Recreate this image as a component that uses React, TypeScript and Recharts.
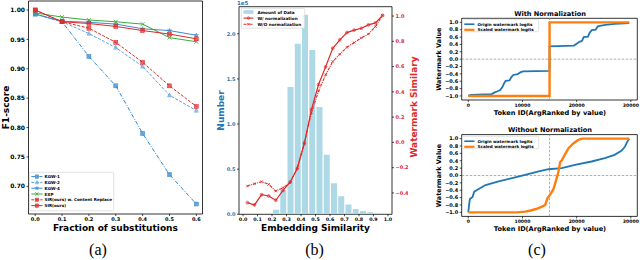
import React from 'react';
import {
  LineChart,
  Line,
  ComposedChart,
  Bar,
  XAxis,
  YAxis,
  ReferenceArea,
  ReferenceLine,
  Legend,
} from 'recharts';

const FONT = '"DejaVu Sans", Verdana, sans-serif';
const SERIF = '"Liberation Serif", "Times New Roman", serif';

// ---------------- (a) F1 vs fraction of substitutions ----------------
const fractions = [0, 0.1, 0.2, 0.3, 0.4, 0.5, 0.6];
const kgw1 = [0.993, 0.98, 0.921, 0.871, 0.79, 0.72, 0.67];
const kgw2 = [0.993, 0.98, 0.96, 0.936, 0.904, 0.855, 0.829];
const kgw4 = [0.993, 0.981, 0.979, 0.976, 0.968, 0.965, 0.957];
const expScores = [0.995, 0.988, 0.983, 0.98, 0.976, 0.953, 0.946];
const sirReplace = [1.0, 0.98, 0.969, 0.945, 0.911, 0.871, 0.836];
const sirOurs = [1.0, 0.98, 0.977, 0.972, 0.965, 0.959, 0.951];
const fractionTicks = [0, 0.1, 0.2, 0.3, 0.4, 0.5, 0.6];
const f1Ticks = [0.7, 0.75, 0.8, 0.85, 0.9, 0.95, 1.0];
const namesA = ['KGW-1', 'KGW-2', 'KGW-4', 'EXP', 'SIR(ours) w. Content Replace', 'SIR(ours)'];

// ---------------- (b) embedding similarity ----------------
const binCenters = [0.225, 0.275, 0.325, 0.375, 0.425, 0.475, 0.525, 0.575, 0.625, 0.675, 0.725, 0.775, 0.825, 0.875, 0.925, 0.975];
const binCounts = [0.05, 0.27, 1.41, 1.89, 2.21, 1.82, 1.19, 0.66, 0.345, 0.2, 0.108, 0.06, 0.037, 0.022, 0.008, 0.003]; // x 1e5
const simPoints = [0.03, 0.079, 0.128, 0.177, 0.226, 0.276, 0.325, 0.374, 0.423, 0.472, 0.521, 0.57, 0.619, 0.668, 0.717, 0.767, 0.816, 0.865, 0.914, 0.963];
const withNorm = [-0.477, -0.495, -0.414, -0.424, -0.458, -0.38, -0.313, -0.208, -0.01, 0.26, 0.458, 0.598, 0.745, 0.812, 0.869, 0.889, 0.903, 0.93, 0.946, 1.006];
const withoutNorm = [-0.345, -0.327, -0.311, -0.332, -0.385, -0.358, -0.32, -0.2, 0.0, 0.235, 0.406, 0.535, 0.64, 0.698, 0.753, 0.79, 0.827, 0.857, 0.917, 1.006];
const simTicks = [0, 0.1, 0.2, 0.3, 0.4, 0.5, 0.6, 0.7, 0.8, 0.9, 1.0];
const countTicks = [0, 0.5, 1.0, 1.5, 2.0];
const simScoreTicks = [-0.4, -0.2, 0, 0.2, 0.4, 0.6, 0.8, 1.0];
const namesB = ['Amount of Data', 'W/ normalization', 'W/O normalization'];

// ---------------- (c) watermark logits ----------------
const topOriginX = [0, 400, 4300, 4800, 5300, 5900, 6300, 6600, 6900, 7600, 8000, 8300, 9100, 9600, 10100, 15000, 15000, 19500, 20000, 20500, 21000, 21300, 22100, 22400, 22800, 23500, 23900, 24500, 25300, 27000, 29700];
const topOriginY = [-1.0, -0.97, -0.95, -0.91, -0.88, -0.84, -0.76, -0.66, -0.59, -0.58, -0.48, -0.43, -0.41, -0.36, -0.33, -0.32, 0.35, 0.37, 0.42, 0.47, 0.5, 0.6, 0.61, 0.72, 0.79, 0.8, 0.89, 0.91, 0.93, 0.96, 0.98];
const topScaledX = [0, 15000, 15000, 29700];
const topScaledY = [-1.0, -1.0, 1.0, 1.0];
const botOriginX = [0, 150, 300, 800, 1100, 2000, 3200, 5600, 8100, 10500, 13000, 14800, 17250, 19700, 22750, 25200, 27000, 28250, 28900, 29350, 29700];
const botOriginY = [-1.0, -0.8, -0.64, -0.58, -0.44, -0.36, -0.26, -0.16, -0.07, 0.02, 0.11, 0.17, 0.2, 0.29, 0.38, 0.47, 0.56, 0.67, 0.78, 0.92, 1.0];
const botScaledX = [0, 9000, 10500, 11500, 12500, 13500, 14200, 14600, 15100, 15700, 16150, 16650, 16950, 17300, 17800, 18500, 19400, 20300, 21000, 29700];
const botScaledY = [-1.0, -1.0, -0.98, -0.95, -0.91, -0.85, -0.8, -0.62, -0.52, -0.38, -0.16, 0.11, 0.36, 0.42, 0.56, 0.74, 0.87, 0.97, 1.0, 1.0];
const tokenTicks = [0, 10000, 20000, 30000];
const wmTicks = [-1.0, -0.8, -0.6, -0.4, -0.2, 0, 0.2, 0.4, 0.6, 0.8, 1.0];
const namesC = ['Origin watermark logits', 'Scaled watermark logits'];

// ---------------- tables built from the arrays ----------------
const aData = fractions.map((f, i) => ({
  f,
  kgw1: kgw1[i],
  kgw2: kgw2[i],
  kgw4: kgw4[i],
  exp: expScores[i],
  sirReplace: sirReplace[i],
  sir: sirOurs[i],
}));
const barData = binCenters.map((x, i) => ({ x, count: binCounts[i] }));
const simLineData = simPoints.map((x, i) => ({ x, withNorm: withNorm[i], withoutNorm: withoutNorm[i] }));
const zip = (xs: number[], ys: number[]) => xs.map((x, i) => ({ x, y: ys[i] }));
const topOrigin = zip(topOriginX, topOriginY);
const topScaled = zip(topScaledX, topScaledY);
const botOrigin = zip(botOriginX, botOriginY);
const botScaled = zip(botScaledX, botScaledY);

// ---------------- styles ----------------
const BLUE_A = '#3a8bd0';
const RED = '#e02828';
const GREEN = '#3cab3c';
const BAR_BLUE = '#add8e6';
const AX_BLUE = '#1f77b4';
const C_BLUE = '#1f77b4';
const C_ORANGE = '#ff7f0e';

const aStyles = [
  { key: 'kgw1', color: '#2f86cc', dash: '4 1.5 1 1.5', marker: 'square' },
  { key: 'kgw2', color: '#5aa2df', dash: '3 1.5', marker: 'triangle' },
  { key: 'kgw4', color: BLUE_A, dash: undefined, marker: 'star' },
  { key: 'exp', color: GREEN, dash: undefined, marker: 'x' },
  { key: 'sirReplace', color: RED, dash: '3 1.5', marker: 'square' },
  { key: 'sir', color: RED, dash: undefined, marker: 'square' },
];

const fmtMinus = (d: number) => (v: number) => (v < 0 ? '\u2212' : '') + Math.abs(v).toFixed(d);

function MarkerShape({ shape, cx, cy, size, color }: { shape: string; cx: number; cy: number; size: number; color: string }) {
  const s = size / 2;
  if (shape === 'square')
    return <rect x={cx - s} y={cy - s} width={size} height={size} fill={color} fillOpacity={0.7} stroke={color} strokeWidth={0.5} />;
  if (shape === 'triangle')
    return (
      <path
        d={`M${cx},${cy - s * 1.15}L${cx + s},${cy + s * 0.85}L${cx - s},${cy + s * 0.85}Z`}
        fill={color}
        fillOpacity={0.6}
        stroke={color}
        strokeWidth={0.5}
      />
    );
  if (shape === 'star') {
    const pts: string[] = [];
    for (let k = 0; k < 10; k++) {
      const r = k % 2 === 0 ? s * 1.2 : s * 0.5;
      const a = -Math.PI / 2 + (k * Math.PI) / 5;
      pts.push(`${cx + r * Math.cos(a)},${cy + r * Math.sin(a)}`);
    }
    return <polygon points={pts.join(' ')} fill={color} fillOpacity={0.75} stroke={color} strokeWidth={0.4} />;
  }
  if (shape === 'x')
    return (
      <path
        d={`M${cx - s},${cy - s}L${cx + s},${cy + s}M${cx - s},${cy + s}L${cx + s},${cy - s}`}
        stroke={color}
        strokeWidth={0.8}
        fill="none"
      />
    );
  if (shape === 'circle')
    return <circle cx={cx} cy={cy} r={s} fill={color} fillOpacity={0.3} stroke={color} strokeWidth={0.6} />;
  return null;
}

const dotRenderer = (shape: string, size: number, color: string) => (props: any) => {
  const { cx, cy, index } = props;
  if (typeof cx !== 'number' || typeof cy !== 'number') return <g key={`d${index}`} />;
  return (
    <g key={`d${index}`}>
      <MarkerShape shape={shape} cx={cx} cy={cy} size={size} color={color} />
    </g>
  );
};

const tickStyle = (size: number, fill = '#000') => ({ fontSize: size, fontWeight: 700, fill, fontFamily: FONT });
const tickLine = { stroke: '#000', strokeWidth: 0.7 };

type Row = { name: string; color: string; dash?: string; width: number; marker?: string; markerSize?: number; patch?: boolean };

function LegendBox({ w, h, rows, y0, dy, hx0, hx1, tx, fs }: { w: number; h: number; rows: Row[]; y0: number; dy: number; hx0: number; hx1: number; tx: number; fs: number }) {
  return (
    <svg width={w} height={h} style={{ display: 'block', overflow: 'visible' }}>
      <rect x={0.3} y={0.3} width={w - 0.6} height={h - 0.6} rx={1.2} fill="#fff" fillOpacity={0.85} stroke="#cccccc" strokeWidth={0.6} />
      {rows.map((r, i) => {
        const y = y0 + dy * i;
        return (
          <g key={r.name}>
            {r.patch ? (
              <rect x={hx0} y={y - 1.8} width={hx1 - hx0} height={3.6} fill={r.color} />
            ) : (
              <line x1={hx0} x2={hx1} y1={y} y2={y} stroke={r.color} strokeWidth={r.width} strokeDasharray={r.dash} />
            )}
            {r.marker ? <MarkerShape shape={r.marker} cx={(hx0 + hx1) / 2} cy={y} size={r.markerSize || 3} color={r.color} /> : null}
            <text x={tx} y={y} dominantBaseline="central" fontSize={fs} fontWeight={700} fontFamily={FONT} fill="#000">
              {r.name}
            </text>
          </g>
        );
      })}
    </svg>
  );
}

const rowsA: Row[] = aStyles.map((s, i) => ({ name: namesA[i], color: s.color, dash: s.dash, width: 1, marker: s.marker, markerSize: 3.4 }));
const rowsB: Row[] = [
  { name: namesB[0], color: BAR_BLUE, width: 1, patch: true },
  { name: namesB[1], color: RED, width: 1.1, marker: 'circle', markerSize: 2.6 },
  { name: namesB[2], color: RED, width: 1.1, dash: '3 1 1 1', marker: 'x', markerSize: 2.4 },
];
const rowsC: Row[] = [
  { name: namesC[0], color: C_BLUE, width: 1.6 },
  { name: namesC[1], color: C_ORANGE, width: 2.2 },
];

function Overlay() {
  const t = (props: any, text: string) => (
    <text fontFamily={FONT} fontWeight={700} fill="#000" {...props}>
      {text}
    </text>
  );
  const rot = (x: number, y: number, text: string, size: number, fill = '#000') => (
    <text
      x={x}
      y={y}
      transform={`rotate(-90 ${x} ${y})`}
      textAnchor="middle"
      dominantBaseline="central"
      fontFamily={FONT}
      fontWeight={700}
      fontSize={size}
      fill={fill}
    >
      {text}
    </text>
  );
  return (
    <svg width={640} height={260} style={{ position: 'absolute', left: 0, top: 0, pointerEvents: 'none' }}>
      {rot(5.5, 107.5, 'F1-score', 9)}
      {t({ x: 115.5, y: 230.5, fontSize: 9, textAnchor: 'middle' }, 'Fraction of substitutions')}
      <text x={98} y={254.5} fontFamily={SERIF} fontSize={16} textAnchor="middle" fill="#000">(a)</text>

      {t({ x: 237, y: 4.6, fontSize: 5.5, fill: AX_BLUE }, '1e5')}
      {rot(220.5, 110.5, 'Number', 9, AX_BLUE)}
      {rot(413.5, 107, 'Watermark Similary', 9, RED)}
      {t({ x: 315.5, y: 230.5, fontSize: 9, textAnchor: 'middle' }, 'Embedding Similarity')}
      <text x={314.5} y={254.5} fontFamily={SERIF} fontSize={16} textAnchor="middle" fill="#000">(b)</text>

      {t({ x: 550, y: 15.8, fontSize: 6.6, textAnchor: 'middle' }, 'With Normalization')}
      {rot(439, 59.2, 'Watermark Value', 6.5)}
      {t({ x: 550, y: 115, fontSize: 6.6, textAnchor: 'middle' }, 'Token ID(ArgRanked by value)')}
      {t({ x: 550, y: 132.3, fontSize: 6.6, textAnchor: 'middle' }, 'Without Normalization')}
      {rot(439, 175.5, 'Watermark Value', 6.5)}
      {t({ x: 550, y: 230.5, fontSize: 6.6, textAnchor: 'middle' }, 'Token ID(ArgRanked by value)')}
      <text x={537} y={254.5} fontFamily={SERIF} fontSize={16} textAnchor="middle" fill="#000">(c)</text>
    </svg>
  );
}

function WatermarkPanel({ origin, scaled, top, plotTop, axisH }: { origin: any[]; scaled: any[]; top: number; plotTop: number; axisH: number }) {
  const xd: [number, number] = [-1210, 31190];
  const yd: [number, number] = [-1.11, 1.11];
  return (
    <div style={{ position: 'absolute', left: 419, top }}>
      <LineChart width={221} height={118} margin={{ top: plotTop, right: 2.7, bottom: 0, left: 0 }}>
        <XAxis
          dataKey="x"
          type="number"
          domain={xd}
          allowDataOverflow
          ticks={tokenTicks}
          interval={0}
          height={axisH}
          tick={tickStyle(4.6)}
          tickSize={2}
          tickMargin={1.5}
          tickLine={tickLine}
          axisLine={false}
        />
        <YAxis
          type="number"
          domain={yd}
          allowDataOverflow
          ticks={wmTicks}
          interval={0}
          width={42.7}
          tickFormatter={fmtMinus(1)}
          tick={tickStyle(5)}
          tickSize={2}
          tickMargin={1.5}
          tickLine={tickLine}
          axisLine={false}
        />
        <ReferenceLine x={15000} stroke="#999" strokeDasharray="2.5 1.5" strokeWidth={0.8} />
        <ReferenceLine y={0} stroke="#999" strokeDasharray="2.5 1.5" strokeWidth={0.8} />
        <Line data={origin} dataKey="y" type="linear" stroke={C_BLUE} strokeWidth={1.8} dot={false} activeDot={false} isAnimationActive={false} name={namesC[0]} />
        <Line data={scaled} dataKey="y" type="linear" stroke={C_ORANGE} strokeWidth={2.4} dot={false} activeDot={false} isAnimationActive={false} name={namesC[1]} />
        <ReferenceArea x1={xd[0]} x2={xd[1]} y1={yd[0]} y2={yd[1]} fill="none" stroke="#000" strokeWidth={0.8} ifOverflow="visible" />
        <Legend
          layout="vertical"
          align="center"
          verticalAlign="middle"
          wrapperStyle={{ left: 43.2, top: plotTop + 1, width: 77, height: 13, lineHeight: 0 }}
          content={() => <LegendBox w={77} h={13} rows={rowsC} y0={5.2} dy={5.6} hx0={2.3} hx1={12.5} tx={15.5} fs={4.1} />}
        />
      </LineChart>
    </div>
  );
}

export default function App() {
  const axd: [number, number] = [-0.025, 0.623];
  const ayd: [number, number] = [0.653, 1.0153];
  const bxd: [number, number] = [-0.028, 1.028];
  const byl: [number, number] = [0, 2.3];
  const byr: [number, number] = [-0.569, 1.074];
  return (
    <div style={{ position: 'absolute', left: 0, top: 0, width: 640, height: 260, background: '#fff', overflow: 'hidden', fontFamily: FONT }}>
      {/* (a) */}
      <div style={{ position: 'absolute', left: 0, top: 0 }}>
        <LineChart width={206} height={240} data={aData} margin={{ top: 1, right: 3.5, bottom: 0, left: 0 }}>
          <XAxis
            dataKey="f"
            type="number"
            domain={axd}
            allowDataOverflow
            ticks={fractionTicks}
            interval={0}
            height={26}
            tickFormatter={(v: number) => v.toFixed(1)}
            tick={tickStyle(5)}
            tickSize={2}
            tickMargin={1.5}
            tickLine={tickLine}
            axisLine={false}
          />
          <YAxis
            type="number"
            domain={ayd}
            allowDataOverflow
            ticks={f1Ticks}
            interval={0}
            width={28.5}
            tickFormatter={(v: number) => v.toFixed(2)}
            tick={tickStyle(6)}
            tickSize={2}
            tickMargin={1.5}
            tickLine={tickLine}
            axisLine={false}
          />
          {aStyles.map((s, i) => (
            <Line
              key={s.key}
              dataKey={s.key}
              name={namesA[i]}
              type="linear"
              stroke={s.color}
              strokeWidth={1}
              strokeDasharray={s.dash}
              dot={dotRenderer(s.marker, 4, s.color)}
              activeDot={false}
              isAnimationActive={false}
            />
          ))}
          <ReferenceArea x1={axd[0]} x2={axd[1]} y1={ayd[0]} y2={ayd[1]} fill="none" stroke="#000" strokeWidth={0.8} ifOverflow="visible" />
          <Legend
            layout="vertical"
            align="center"
            verticalAlign="middle"
            wrapperStyle={{ left: 28.8, top: 172, width: 85, height: 39, lineHeight: 0 }}
            content={() => <LegendBox w={85} h={39} rows={rowsA} y0={4.6} dy={5.8} hx0={2.3} hx1={13.5} tx={15.5} fs={4.1} />}
          />
        </LineChart>
      </div>

      {/* (b) */}
      <div style={{ position: 'absolute', left: 210, top: 0 }}>
        <ComposedChart width={210} height={240} data={barData} margin={{ top: 6.7, right: 0, bottom: 0, left: 0 }}>
          <XAxis
            xAxisId="bins"
            dataKey="x"
            type="number"
            domain={bxd}
            allowDataOverflow
            ticks={simTicks}
            interval={0}
            height={25.7}
            tickFormatter={(v: number) => v.toFixed(1)}
            tick={tickStyle(4.8)}
            tickSize={2}
            tickMargin={1.5}
            tickLine={tickLine}
            axisLine={false}
          />
          <XAxis xAxisId="sim" dataKey="x" type="number" domain={bxd} allowDataOverflow hide />
          <YAxis
            yAxisId="left"
            orientation="left"
            type="number"
            domain={byl}
            allowDataOverflow
            ticks={countTicks}
            interval={0}
            width={29}
            tickFormatter={(v: number) => v.toFixed(1)}
            tick={tickStyle(5, AX_BLUE)}
            tickSize={2}
            tickMargin={1.5}
            tickLine={tickLine}
            axisLine={false}
          />
          <YAxis
            yAxisId="right"
            orientation="right"
            type="number"
            domain={byr}
            allowDataOverflow
            ticks={simScoreTicks}
            interval={0}
            width={28}
            tickFormatter={fmtMinus(1)}
            tick={tickStyle(5, RED)}
            tickSize={2}
            tickMargin={1.5}
            tickLine={tickLine}
            axisLine={false}
          />
          <Bar xAxisId="bins" yAxisId="left" dataKey="count" name={namesB[0]} fill={BAR_BLUE} barSize={6} isAnimationActive={false} />
          <Line
            xAxisId="sim"
            yAxisId="right"
            data={simLineData}
            dataKey="withNorm"
            name={namesB[1]}
            type="linear"
            stroke={RED}
            strokeWidth={1.2}
            dot={dotRenderer('circle', 2.8, RED)}
            activeDot={false}
            isAnimationActive={false}
          />
          <Line
            xAxisId="sim"
            yAxisId="right"
            data={simLineData}
            dataKey="withoutNorm"
            name={namesB[2]}
            type="linear"
            stroke={RED}
            strokeWidth={1.1}
            strokeDasharray="3 1 1 1"
            dot={dotRenderer('x', 2.4, RED)}
            activeDot={false}
            isAnimationActive={false}
          />
          <ReferenceArea xAxisId="bins" yAxisId="left" x1={bxd[0]} x2={bxd[1]} y1={byl[0]} y2={byl[1]} fill="none" stroke="#000" strokeWidth={0.8} ifOverflow="visible" />
          <Legend
            layout="vertical"
            align="center"
            verticalAlign="middle"
            wrapperStyle={{ left: 30.5, top: 8, width: 64, height: 20.5, lineHeight: 0 }}
            content={() => <LegendBox w={64} h={20.5} rows={rowsB} y0={4} dy={6.1} hx0={2.5} hx1={12.5} tx={16.5} fs={4.2} />}
          />
        </ComposedChart>
      </div>

      {/* (c) */}
      <WatermarkPanel origin={topOrigin} scaled={topScaled} top={0} plotTop={18.3} axisH={18} />
      <WatermarkPanel origin={botOrigin} scaled={botScaled} top={116} plotTop={18.6} axisH={17.6} />

      <Overlay />
    </div>
  );
}
